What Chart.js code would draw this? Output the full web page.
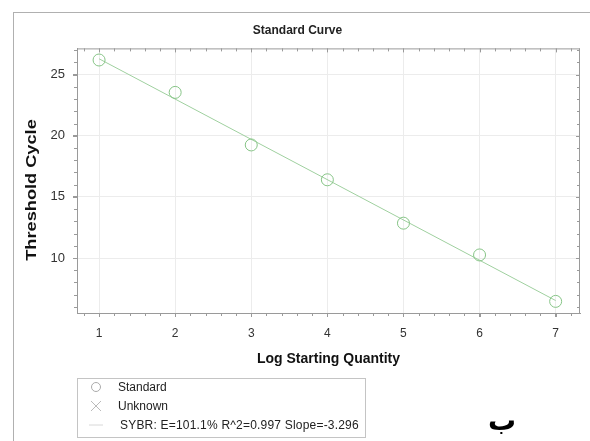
<!DOCTYPE html>
<html><head><meta charset="utf-8">
<script src="https://cdn.jsdelivr.net/npm/chart.js@4/dist/chart.umd.min.js"></script>
<style>
html,body{margin:0;padding:0;background:#fff;}
#wrap{position:relative;width:590px;height:441px;overflow:hidden;font-family:"Liberation Sans",Arial,sans-serif;}
#frameT{position:absolute;left:13px;top:12px;width:577px;height:1px;background:#b0b0b0;}
#frameL{position:absolute;left:13px;top:12px;width:1px;height:429px;background:#b0b0b0;}
canvas{position:absolute;left:0;top:0;}
#legend{position:absolute;left:77px;top:378px;width:287px;height:58px;border:1px solid #c4c4c4;font-size:12px;color:#222;}
.row{position:absolute;left:0;height:16px;line-height:16px;white-space:nowrap;}
.mk{position:absolute;left:11px;top:0;width:14px;text-align:center;color:#aaa;}
.tx{position:absolute;left:40px;}
#ytitle{position:absolute;left:31px;top:190px;width:0;height:0;}
#ytitle span{position:absolute;left:0;top:0;white-space:nowrap;font-weight:bold;font-size:14px;color:#111;transform:translate(-50%,-50%) rotate(-90deg) scaleX(1.3);transform-origin:center;display:block;line-height:16px;}
#ba{position:absolute;left:488px;top:407px;font-size:28px;font-weight:bold;color:#000;font-family:"DejaVu Sans",sans-serif;line-height:1;}
</style></head>
<body><div id="wrap">
<canvas id="c" width="590" height="441"></canvas>
<div id="frameT"></div><div id="frameL"></div>
<div id="ytitle"><span>Threshold Cycle</span></div>
<div id="legend">
 <div class="row" style="top:0px"><span class="mk"><svg width="12" height="12" style="margin-top:2px"><circle cx="6" cy="6" r="4.5" fill="none" stroke="#aaa" stroke-width="1"/></svg></span><span class="tx">Standard</span></div>
 <div class="row" style="top:19px"><span class="mk"><svg width="12" height="12" style="margin-top:2px"><path d="M1 1 L11 11 M11 1 L1 11" stroke="#bbb" stroke-width="1"/></svg></span><span class="tx">Unknown</span></div>
 <div class="row" style="top:38px"><span class="mk"><svg width="14" height="12" style="margin-top:2px"><path d="M0 6 L14 6" stroke="#d8d8d8" stroke-width="1"/></svg></span><span class="tx" style="left:42px;letter-spacing:0.2px">SYBR: E=101.1% R^2=0.997 Slope=-3.296</span></div>
</div>
<div id="ba">ب</div>
</div>
<script>
// Data
const logQuantity = [1, 2, 3, 4, 5, 6, 7];
const thresholdCycle = [26.2, 23.55, 19.25, 16.4, 12.85, 10.25, 6.45];
const fitX = [1, 7];
const fitY = [26.3, 6.52];
const xTicks = [1, 2, 3, 4, 5, 6, 7];
const yTicks = [10, 15, 20, 25];

const X_MIN = 0.71, X_MAX = 7.32, Y_MIN = 5.5, Y_MAX = 27.15;

const minorTicks = {
  id: 'minorTicks',
  afterDraw(chart) {
    const {ctx, chartArea: a, scales: {x, y}} = chart;
    ctx.save();
    ctx.strokeStyle = '#9a9a9a';
    ctx.lineWidth = 1;
    ctx.beginPath();
    ctx.moveTo(a.left, a.top + 0.5); ctx.lineTo(a.right, a.top + 0.5);
    ctx.moveTo(a.right - 0.5, a.top); ctx.lineTo(a.right - 0.5, a.bottom);
    ctx.stroke();
    ctx.beginPath();
    for (let v = 0.8; v <= X_MAX + 1e-9; v += 0.2) {
      const px = Math.round(x.getPixelForValue(v)) + 0.5;
      const major = Math.abs(v - Math.round(v)) < 1e-6;
      const len = major ? 4 : 3;
      ctx.moveTo(px, a.bottom); ctx.lineTo(px, a.bottom + len);
      ctx.moveTo(px, a.top); ctx.lineTo(px, a.top + len);
    }
    for (let v = 6; v <= Y_MAX + 1e-9; v += 1) {
      const py = Math.round(y.getPixelForValue(v)) + 0.5;
      const major = v % 5 === 0;
      const len = major ? 4 : 3;
      ctx.moveTo(a.left - len, py); ctx.lineTo(a.left, py);
      ctx.moveTo(a.right - len, py); ctx.lineTo(a.right, py);
    }
    ctx.stroke();
    ctx.restore();
  }
};

new Chart(document.getElementById('c'), {
  type: 'scatter',
  data: {
    datasets: [
      {
        label: 'Standard',
        data: logQuantity.map((v, i) => ({x: v, y: thresholdCycle[i]})),
        pointStyle: 'circle',
        pointRadius: 6,
        pointBorderWidth: 1,
        pointBorderColor: '#86c486',
        pointBackgroundColor: 'rgba(0,0,0,0)',
        showLine: false,
        order: 1
      },
      {
        label: 'Fit',
        data: fitX.map((v, i) => ({x: v, y: fitY[i]})),
        showLine: true,
        borderColor: '#9fd09f',
        borderWidth: 1,
        pointRadius: 0,
        order: 2
      }
    ]
  },
  options: {
    responsive: false,
    animation: false,
    events: [],
    layout: {padding: {left: 15, right: 10, top: 23, bottom: 70}},
    plugins: {
      legend: {display: false},
      tooltip: {enabled: false},
      title: {
        display: true,
        text: 'Standard Curve',
        color: '#222',
        font: {family: '"Liberation Sans", Arial, sans-serif', size: 12, weight: 'bold'},
        padding: {top: 0, bottom: 11}
      }
    },
    scales: {
      x: {
        type: 'linear',
        min: X_MIN, max: X_MAX,
        afterBuildTicks: s => { s.ticks = xTicks.map(v => ({value: v})); },
        afterFit: s => { s.height = 58; },
        ticks: {color: '#333', font: {family: '"Liberation Sans", Arial, sans-serif', size: 12}, padding: 9, maxRotation: 0},
        grid: {color: '#ececec', tickColor: '#9a9a9a', tickLength: 4, drawTicks: true},
        border: {color: '#9a9a9a', width: 1},
        title: {display: true, text: 'Log Starting Quantity', color: '#111',
          font: {family: '"Liberation Sans", Arial, sans-serif', size: 14, weight: 'bold'}, padding: {top: 0, bottom: 3}}
      },
      y: {
        type: 'linear',
        min: Y_MIN, max: Y_MAX,
        afterBuildTicks: s => { s.ticks = yTicks.map(v => ({value: v})); },
        afterFit: s => { s.width = 62; },
        ticks: {color: '#333', font: {family: '"Liberation Sans", Arial, sans-serif', size: 13}, padding: 8},
        grid: {color: '#ececec', tickColor: '#9a9a9a', tickLength: 4, drawTicks: true},
        border: {color: '#9a9a9a', width: 1},
        title: {display: false}
      }
    }
  },
  plugins: [minorTicks]
});
</script>
</body></html>
